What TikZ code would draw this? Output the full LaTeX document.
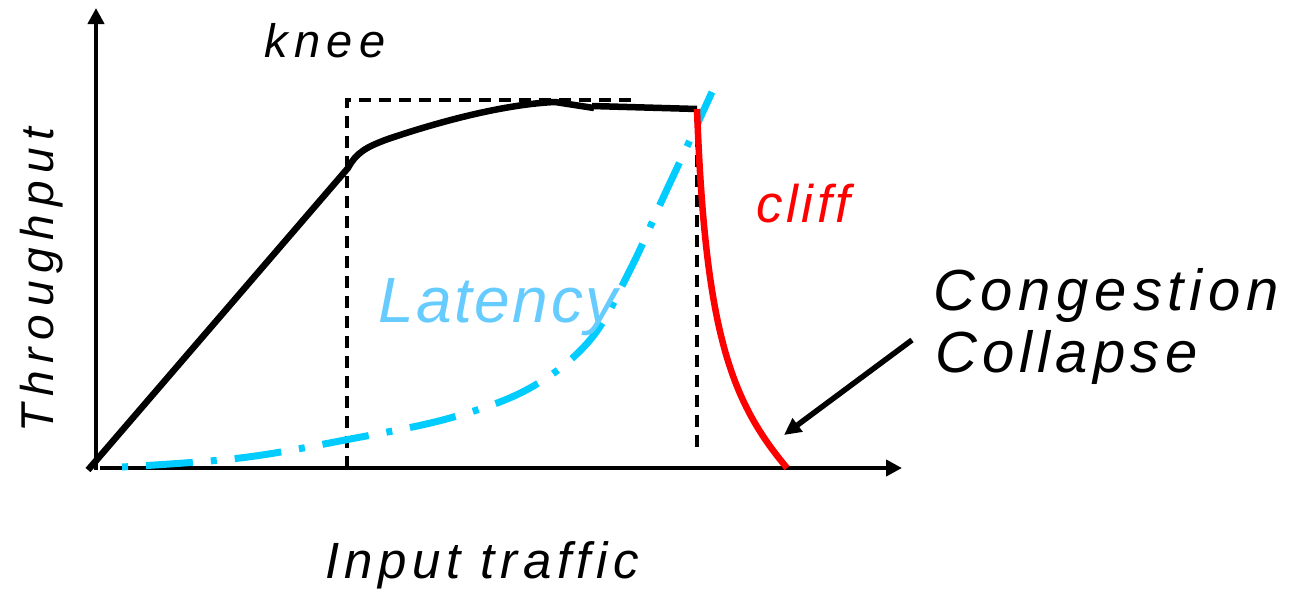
\documentclass[tikz,border=0pt]{standalone}
\usepackage{fontspec}
\setmainfont{Liberation Sans}
\usetikzlibrary{arrows.meta}
\definecolor{latline}{HTML}{00CCFF}
\definecolor{lattext}{HTML}{66CCFF}
\definecolor{cliffred}{HTML}{FF0000}
\begin{document}
\begin{tikzpicture}[x=1pt,y=-1pt,
  lbl/.style={inner sep=0pt, anchor=base west},
  axisline/.style={line width=4pt, -{Triangle[length=16pt,width=16pt]}},
  thr/.style={line width=6.5pt, line join=round},
  guide/.style={line width=3.6pt, dash pattern=on 12pt off 8pt},
  latcurve/.style={latline, line width=7pt, dash pattern=on 6pt off 18pt on 47pt off 18pt},
  cliffcurve/.style={cliffred, line width=6.5pt},
  pointer/.style={line width=5.5pt, -{Triangle[length=17pt,width=16pt]}}
]
\useasboundingbox (0,0) rectangle (1292,592);
% axes
\coordinate (yb) at (96,470);
\coordinate (yt) at (96,8);
\coordinate (xl) at (100,468);
\coordinate (xr) at (902,468);
\draw[axisline] (yb) -- (yt);
\draw[axisline] (xl) -- (xr);
% dashed guides
\coordinate (g1) at (347,468);
\coordinate (g2) at (347,100);
\coordinate (g3) at (637,100);
\coordinate (g4) at (697,115);
\coordinate (g5) at (697,450);
\draw[guide] (g1) -- (g2) -- (g3);
\draw[guide] (g4) -- (g5);
% latency
\draw[latcurve] plot[smooth, tension=0.6] coordinates {(122,467) (240,458) (345,440) (450,418) (530,388) (590,340) (630,270) (663,198) (690,140) (712,92)};
% throughput
\coordinate (o) at (88,470);
\draw[thr] (o) -- (348,168) .. controls (356,153) and (366,147) .. (388,139) .. controls (450,118) and (510,104) .. (555,102) -- (594,108);
\draw[thr] (592,106) -- (697,109);
% cliff
\draw[cliffcurve] (697,109) .. controls (705,330) and (730,400) .. (787,468);
% labels
\node[lbl, font=\fontsize{47pt}{56pt}\selectfont\itshape\addfontfeatures{LetterSpace=14}] (knee) at (264,57) {knee};
\node[lbl, rotate=90, font=\fontsize{46pt}{55pt}\selectfont\itshape\addfontfeatures{LetterSpace=17}] (thr) at (53,433) {Throughput};
\node[lbl, font=\fontsize{51pt}{61pt}\selectfont\itshape\addfontfeatures{LetterSpace=11}] (inp) at (325,578) {Input traffic};
\node[lbl, text=lattext, font=\fontsize{64pt}{76pt}\selectfont\itshape\addfontfeatures{LetterSpace=4}] (lat) at (378,322) {Latency};
\node[lbl, text=cliffred, font=\fontsize{53pt}{63pt}\selectfont\itshape\addfontfeatures{LetterSpace=7}] (cliff) at (756,222) {cliff};
\node[lbl, font=\fontsize{58pt}{69pt}\selectfont\itshape\addfontfeatures{LetterSpace=10}] (cong) at (933,310) {Congestion};
\node[lbl, font=\fontsize{58pt}{69pt}\selectfont\itshape\addfontfeatures{LetterSpace=9}] (coll) at (935,372) {Collapse};
% pointer
\coordinate (pstart) at (912,340);
\coordinate (ptip) at (784,435);
\draw[pointer] (pstart) -- (ptip);
\end{tikzpicture}
\end{document}
